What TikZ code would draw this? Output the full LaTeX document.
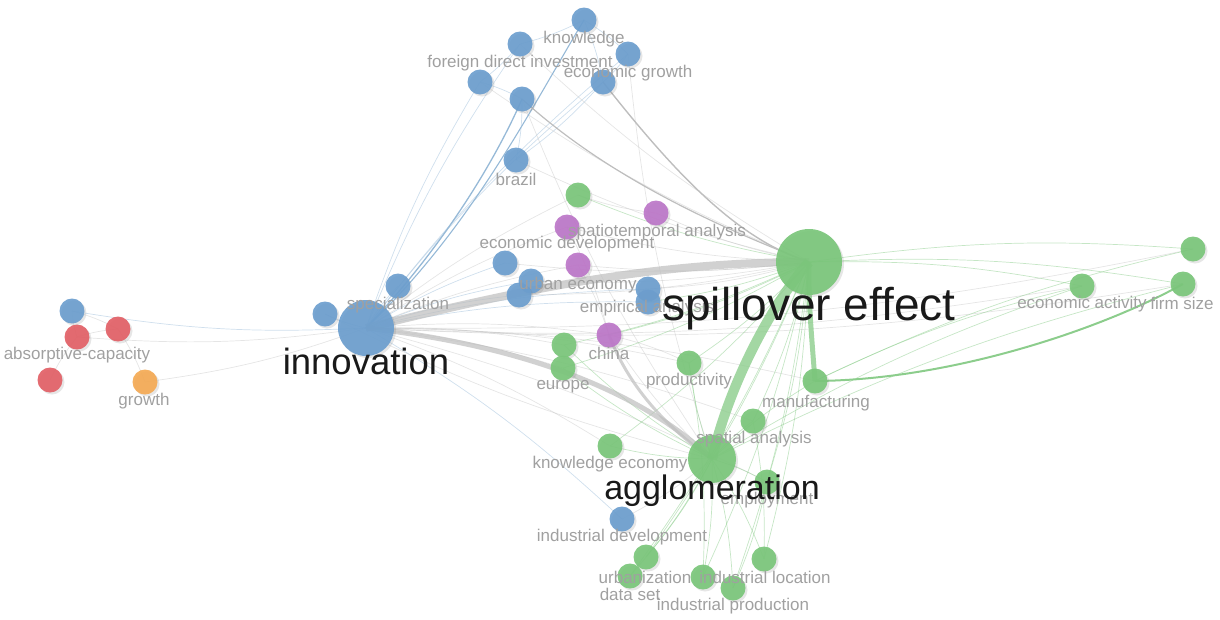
\documentclass[tikz,border=0pt]{standalone}
\usepackage{fontspec}
\setmainfont{Liberation Sans}
\usetikzlibrary{shadows}
\definecolor{cBlue}{RGB}{108,158,206}
\definecolor{cGreen}{RGB}{122,198,122}
\definecolor{cRed}{RGB}{226,96,102}
\definecolor{cPurple}{RGB}{188,118,200}
\definecolor{cOrange}{RGB}{244,170,84}
\definecolor{cEdge}{RGB}{190,190,190}
\definecolor{cEdgeB}{RGB}{150,185,215}
\definecolor{cEdgeG}{RGB}{140,205,140}
\definecolor{cLbl}{RGB}{160,160,160}
\definecolor{cBig}{RGB}{25,25,25}
\tikzset{
  nd/.style={circle, inner sep=0pt, minimum size=25pt, draw=none, fill opacity=0.92,
             drop shadow={opacity=0.2, shadow xshift=2pt, shadow yshift=-2pt}},
  bl/.style={nd, fill=cBlue}, gr/.style={nd, fill=cGreen}, rd/.style={nd, fill=cRed},
  pu/.style={nd, fill=cPurple}, og/.style={nd, fill=cOrange},
  lbl/.style={text=cLbl, font=\fontsize{17}{17}\selectfont, inner sep=0pt},
  big/.style={text=cBig, inner sep=0pt},
  eg/.style={draw=cEdge, line width=0.7pt, opacity=0.4},
  eb/.style={draw=cEdgeB, line width=0.7pt, opacity=0.45},
  egn/.style={draw=cEdgeG, line width=0.7pt, opacity=0.5}
}
\begin{document}
\begin{tikzpicture}[x=1pt,y=-1pt]
\useasboundingbox (0,0) rectangle (1220,619);
% coordinates
\coordinate (know) at (584,20);   \coordinate (fdi) at (520,44);
\coordinate (egro) at (628,54);   \coordinate (b1) at (480,82);
\coordinate (b2) at (603,82);     \coordinate (b3) at (522,99);
\coordinate (brazil) at (516,160);\coordinate (spec) at (398,286);
\coordinate (b4) at (325,314);    \coordinate (innov) at (366,328);
\coordinate (b5) at (505,263);    \coordinate (b6) at (531,281);
\coordinate (b7) at (519,295);    \coordinate (emp1) at (648,289);
\coordinate (empa) at (648,302);  \coordinate (b8) at (72,311);
\coordinate (inddev) at (622,519);
\coordinate (absc) at (77,337);   \coordinate (r1) at (118,329);
\coordinate (r2) at (50,380);     \coordinate (growth) at (145,382);
\coordinate (ecodev) at (567,227);\coordinate (spat) at (656,213);
\coordinate (urb) at (578,265);   \coordinate (china) at (609,335);
\coordinate (spill) at (809,262); \coordinate (g1) at (578,195);
\coordinate (g2) at (564,345);    \coordinate (europe) at (563,368);
\coordinate (prod) at (689,363);  \coordinate (manuf) at (815,381);
\coordinate (spana) at (753,421); \coordinate (agglo) at (712,459);
\coordinate (employ) at (767,482);\coordinate (kecon) at (610,446);
\coordinate (urbz) at (646,557);  \coordinate (dset) at (630,576);
\coordinate (g3) at (703,577);    \coordinate (indloc) at (764,559);
\coordinate (indprod) at (733,588);\coordinate (ecact) at (1082,286);
\coordinate (firm) at (1183,284); \coordinate (g4) at (1193,249);

% thin edges
\foreach \a/\b in {innov/fdi, innov/egro, innov/b1, innov/b2, innov/spec, innov/b4,
  innov/b5, innov/b6, innov/b7, innov/emp1, innov/empa, innov/b8, innov/inddev,
  know/egro, know/fdi, fdi/b1, b1/b3, b3/brazil, egro/b2, b2/brazil, know/b2}
  \draw[eb] (\a) to[bend left=6] (\b);
\foreach \a/\b in {innov/china, innov/europe, innov/g2, innov/prod, innov/kecon,
  innov/manuf, innov/spana, innov/employ, innov/growth, innov/absc, innov/ecodev,
  innov/urb, innov/g1, spill/fdi, spill/brazil, spill/spat, spill/ecodev, spill/urb,
  spill/b5, spill/b6, spill/b7, spill/emp1, spill/b1, agglo/egro, agglo/b4, agglo/b3,
  agglo/inddev, agglo/china, ecact/innov, g4/innov, firm/innov, absc/r1, r1/growth,
  absc/b8, r2/absc, b8/r1, spat/g1, ecodev/china, urb/china, china/prod}
  \draw[eg] (\a) to[bend left=6] (\b);
\foreach \a/\b in {spill/g1, spill/prod, spill/spana, spill/employ, spill/indloc,
  spill/indprod, spill/g3, spill/urbz, spill/dset, spill/ecact, spill/firm, spill/g4,
  spill/kecon, spill/europe, spill/g2, spill/china, spill/empa,
  agglo/manuf, agglo/spana, agglo/employ, agglo/prod, agglo/kecon, agglo/urbz,
  agglo/dset, agglo/g3, agglo/indloc, agglo/indprod, agglo/europe, agglo/g2,
  agglo/ecact, agglo/firm, manuf/ecact, manuf/g4, prod/g3, spana/indloc, employ/indprod}
  \draw[egn] (\a) to[bend left=6] (\b);

% emphasised edges
\draw[draw=cEdgeB, line width=1.3pt] (innov) .. controls (450,240) and (500,150) .. (b3);
\draw[draw=cEdgeB, line width=1.1pt] (innov) .. controls (470,230) and (530,110) .. (know);
\draw[draw=cEdge, line width=1.4pt] (b2) .. controls (680,180) and (740,240) .. (spill);
\draw[draw=cEdge, line width=1.2pt] (b3) .. controls (600,170) and (700,220) .. (spill);
\draw[draw=cEdge, line width=8pt, opacity=0.7] (innov) .. controls (520,290) and (650,262) .. (spill);
\draw[draw=cEdge, line width=5pt, opacity=0.7] (innov) .. controls (520,345) and (640,390) .. (agglo);
\draw[draw=cEdge, line width=3pt, opacity=0.7] (china) .. controls (630,390) and (670,430) .. (agglo);
\draw[draw=cEdgeG, line width=10pt, opacity=0.8] (spill) .. controls (775,300) and (730,380) .. (agglo);
\draw[draw=cEdgeG, line width=5pt, opacity=0.8] (spill) .. controls (808,300) and (812,340) .. (manuf);
\draw[draw=cEdgeG, line width=2pt] (manuf) .. controls (950,380) and (1100,330) .. (firm);

% nodes
\node[bl] (n-know) at (know) {};   \node[bl] (n-fdi) at (fdi) {};
\node[bl] (n-egro) at (egro) {};   \node[bl] (n-b1) at (b1) {};
\node[bl] (n-b2) at (b2) {};       \node[bl] (n-b3) at (b3) {};
\node[bl] (n-brazil) at (brazil) {};\node[bl] (n-spec) at (spec) {};
\node[bl] (n-b4) at (b4) {};       \node[bl, minimum size=56pt] (n-innov) at (innov) {};
\node[bl] (n-b5) at (b5) {};       \node[bl] (n-b6) at (b6) {};
\node[bl] (n-b7) at (b7) {};       \node[bl] (n-emp1) at (emp1) {};
\node[bl] (n-empa) at (empa) {};   \node[bl] (n-b8) at (b8) {};
\node[bl] (n-inddev) at (inddev) {};
\node[rd] (n-absc) at (absc) {};   \node[rd] (n-r1) at (r1) {};
\node[rd] (n-r2) at (r2) {};       \node[og] (n-growth) at (growth) {};
\node[pu] (n-ecodev) at (ecodev) {};\node[pu] (n-spat) at (spat) {};
\node[pu] (n-urb) at (urb) {};     \node[pu] (n-china) at (china) {};
\node[gr, minimum size=66pt] (n-spill) at (spill) {};
\node[gr] (n-g1) at (g1) {};       \node[gr] (n-g2) at (g2) {};
\node[gr] (n-europe) at (europe) {};\node[gr] (n-prod) at (prod) {};
\node[gr] (n-manuf) at (manuf) {}; \node[gr] (n-spana) at (spana) {};
\node[gr, minimum size=48pt] (n-agglo) at (agglo) {};
\node[gr] (n-employ) at (employ) {};\node[gr] (n-kecon) at (kecon) {};
\node[gr] (n-urbz) at (urbz) {};   \node[gr] (n-dset) at (dset) {};
\node[gr] (n-g3) at (g3) {};       \node[gr] (n-indloc) at (indloc) {};
\node[gr] (n-indprod) at (indprod) {};\node[gr] (n-ecact) at (ecact) {};
\node[gr] (n-firm) at (firm) {};   \node[gr] (n-g4) at (g4) {};

% labels
\node[lbl] (l-know) at (584,39) {knowledge};
\node[lbl] (l-fdi) at (520,63) {foreign direct investment};
\node[lbl] (l-egro) at (628,73) {economic growth};
\node[lbl] (l-brazil) at (516,179) {brazil};
\node[lbl] (l-spec) at (398,305) {specialization};
\node[lbl] (l-ecodev) at (567,244) {economic development};
\node[lbl] (l-spat) at (657,232) {spatiotemporal analysis};
\node[lbl] (l-urb) at (578,285) {urban economy};
\node[lbl] (l-empa) at (647,308) {empirical analysis};
\node[lbl] (l-china) at (609,353) {china};
\node[lbl] (l-europe) at (563,387) {europe};
\node[lbl] (l-prod) at (689,381) {productivity};
\node[lbl] (l-manuf) at (816,403) {manufacturing};
\node[lbl] (l-spana) at (754,439) {spatial analysis};
\node[lbl] (l-employ) at (767,500) {employment};
\node[lbl] (l-kecon) at (610,464) {knowledge economy};
\node[lbl] (l-inddev) at (622,537) {industrial development};
\node[lbl] (l-urbz) at (645,577) {urbanization};
\node[lbl] (l-dset) at (630,594) {data set};
\node[lbl] (l-indloc) at (765,577) {industrial location};
\node[lbl] (l-indprod) at (733,606) {industrial production};
\node[lbl] (l-ecact) at (1082,304) {economic activity};
\node[lbl] (l-firm) at (1182,303) {firm size};
\node[lbl] (l-absc) at (77,355) {absorptive-capacity};
\node[lbl] (l-growth) at (144,401) {growth};
\node[big, font=\fontsize{46}{46}\selectfont] (l-spill) at (809,309) {spillover effect};
\node[big, font=\fontsize{36.5}{36.5}\selectfont] (l-innov) at (366,361) {innovation};
\node[big, font=\fontsize{34}{34}\selectfont] (l-agglo) at (712,491) {agglomeration};
\end{tikzpicture}
\end{document}
